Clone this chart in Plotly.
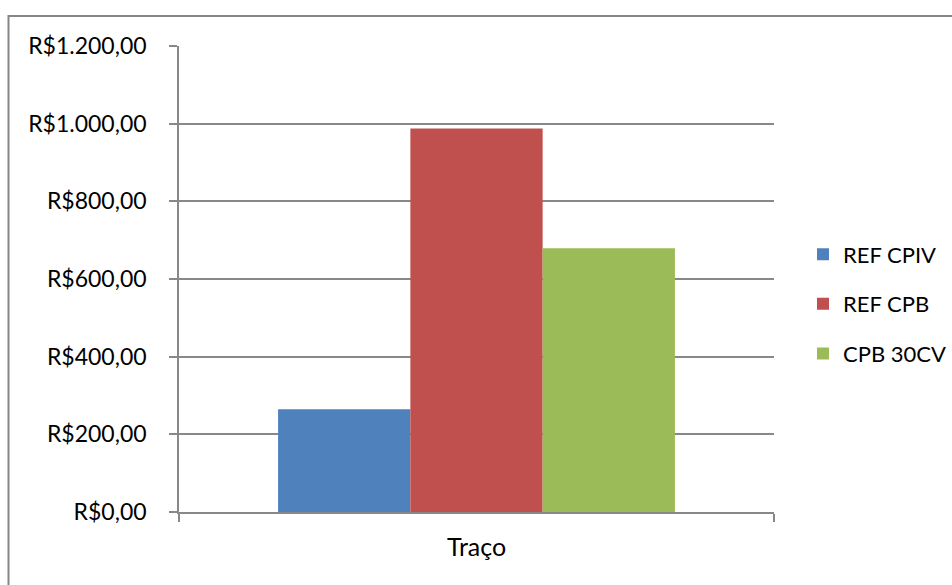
import plotly.graph_objects as go

categories = ["Traço"]
series_names = ["REF CPIV", "REF CPB", "CPB 30CV"]
series_values = [[264.5], [987.5], [679.0]]
colors = ["#4F81BD", "#C0504D", "#9BBB59"]
y_tickvals = [0, 200, 400, 600, 800, 1000, 1200]


def brl(v):
    s = f"{v:,.2f}"  # 1,200.00
    s = s.replace(",", "X").replace(".", ",").replace("X", ".")
    return "R$" + s


y_ticktext = [brl(v) for v in y_tickvals]

W, H = 952, 585
L, R, T, B = 179, 774, 45.5, 511.7


def px_x(px):
    return (px - L) / (R - L)


def px_y(py):
    return (B - py) / (B - T)


fig = go.Figure()
for i, (name, vals) in enumerate(zip(series_names, series_values)):
    fig.add_trace(go.Bar(
        x=categories, y=vals, name=name,
        marker=dict(color=colors[i], line=dict(width=0)),
        legendgroup=f"g{i}",
    ))

font_family = "Lato, 'Open Sans', sans-serif"
grid_col = "#888888"

fig.update_layout(
    width=W, height=H,
    margin=dict(l=L, r=W - R, t=T, b=H - B, autoexpand=False),
    paper_bgcolor="white", plot_bgcolor="white",
    barmode="group", bargap=0.333, bargroupgap=0,
    font=dict(family=font_family, size=22, color="#000000"),
    showlegend=True,
    legend=dict(
        x=px_x(803), y=px_y(233), xanchor="left", yanchor="top",
        font=dict(family=font_family, size=22, color="#000000"),
        tracegroupgap=18, itemwidth=30,
        bgcolor="rgba(0,0,0,0)",
    ),
    xaxis=dict(
        type="category", showline=True, linecolor=grid_col, linewidth=1.6,
        ticks="outside", tickson="boundaries", ticklen=8, tickcolor=grid_col,
        tickwidth=1.6, showgrid=False, ticklabelstandoff=12,
        tickfont=dict(family=font_family, size=25, color="#000000"),
    ),
    yaxis=dict(
        range=[0, 1200], tickmode="array", tickvals=y_tickvals, ticktext=y_ticktext,
        showline=True, linecolor=grid_col, linewidth=1.6,
        showgrid=True, gridcolor=grid_col, gridwidth=1.6,
        zeroline=False,
        ticks="outside", ticklen=8, tickcolor=grid_col, tickwidth=1.6,
        ticklabelstandoff=18,
        tickfont=dict(family=font_family, size=23, color="#000000"),
    ),
    shapes=[dict(
        type="rect", xref="paper", yref="paper",
        x0=px_x(8.5), x1=px_x(1000), y0=px_y(700), y1=px_y(15.5),
        line=dict(color="#868686", width=2), fillcolor="rgba(0,0,0,0)",
        layer="below",
    )],
)

fig.write_html("out.html")
